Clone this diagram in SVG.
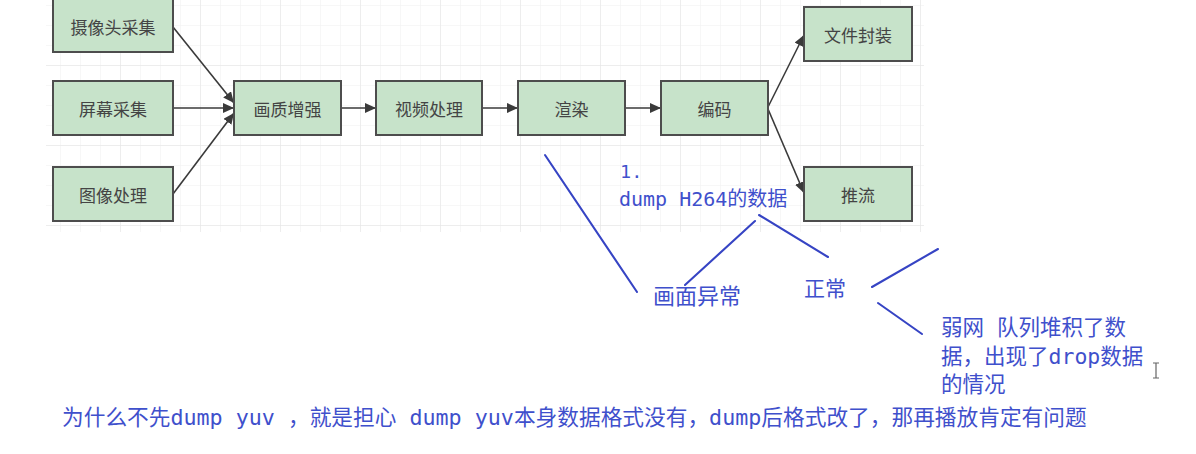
<svg xmlns="http://www.w3.org/2000/svg" width="1196" height="454" viewBox="0 0 1196 454">
  <defs>
    <pattern id="minor" x="0" y="5" width="20" height="20" patternUnits="userSpaceOnUse">
      <path d="M0 0 H20 M0 0 V20" fill="none" stroke="#f0f0f0" stroke-width="1"/>
    </pattern>
    <pattern id="major" x="40" y="65" width="80" height="80" patternUnits="userSpaceOnUse">
      <path d="M0 0 H80 M0 0 V80" fill="none" stroke="#e3e3e3" stroke-width="1"/>
    </pattern>
    <marker id="arrow" markerUnits="userSpaceOnUse" markerWidth="12" markerHeight="10" refX="11" refY="5" orient="auto">
      <path d="M0 0 L11 5 L0 10 Z" fill="#3a3a3a"/>
    </marker>
    <style>
      .node rect { fill: #c7e3ca; stroke: #4d4d4d; stroke-width: 2; }
      .node text { font-family: "Noto Sans CJK SC", "Noto Sans", sans-serif; font-size: 17px; fill: #444444; text-anchor: middle; dominant-baseline: central; }
      .conn { fill: none; stroke: #3a3a3a; stroke-width: 1.6; marker-end: url(#arrow); }
      .ann { fill: none; stroke: #3644c4; stroke-width: 2.1; stroke-linecap: round; }
      .note { font-family: "DejaVu Sans Mono", "Noto Sans CJK SC", monospace; fill: #3f50cc; }
    </style>
  </defs>
  <rect width="1196" height="454" fill="#ffffff"/>
  <g id="grid">
    <rect x="46" y="0" width="878" height="232" fill="url(#minor)"/>
    <rect x="46" y="0" width="878" height="232" fill="url(#major)"/>
  </g>

  <g id="connectors">
    <path class="conn" d="M173 27 L234 103"/>
    <path class="conn" d="M173 108 L234 108"/>
    <path class="conn" d="M173 194 L234 113"/>
    <path class="conn" d="M341 108 L376 108"/>
    <path class="conn" d="M482 108 L518 108"/>
    <path class="conn" d="M625 108 L661 108"/>
    <path class="conn" d="M768 107 L804 35"/>
    <path class="conn" d="M768 109 L804 193"/>
  </g>

  <g id="n-camera" class="node"><rect x="53" y="-2" width="120" height="54"/><text x="113" y="26">摄像头采集</text></g>
  <g id="n-screen" class="node"><rect x="53" y="81" width="120" height="54"/><text x="113" y="108">屏幕采集</text></g>
  <g id="n-image" class="node"><rect x="53" y="167" width="120" height="54"/><text x="113" y="194">图像处理</text></g>
  <g id="n-enhance" class="node"><rect x="234" y="81" width="107" height="54"/><text x="287.5" y="108">画质增强</text></g>
  <g id="n-video" class="node"><rect x="376" y="81" width="106" height="54"/><text x="429" y="108">视频处理</text></g>
  <g id="n-render" class="node"><rect x="518" y="81" width="107" height="54"/><text x="571.5" y="108">渲染</text></g>
  <g id="n-encode" class="node"><rect x="661" y="81" width="107" height="54"/><text x="714.5" y="108">编码</text></g>
  <g id="n-file" class="node"><rect x="804" y="7" width="108" height="54"/><text x="858" y="34">文件封装</text></g>
  <g id="n-push" class="node"><rect x="804" y="167" width="108" height="54"/><text x="858" y="194">推流</text></g>

  <g id="annotations">
    <path class="ann" d="M545 155 L637 292"/>
    <path class="ann" d="M755 221 L685 285"/>
    <path class="ann" d="M759 215 L828 257"/>
    <path class="ann" d="M872 287 L938 249"/>
    <path class="ann" d="M878 303 L922 334"/>
    <text class="note" x="620" y="178" font-size="18.5">1.</text>
    <text class="note" x="619" y="206" font-size="20">dump H264的数据</text>
    <text class="note" x="653" y="304" font-size="22">画面异常</text>
    <text class="note" x="804" y="296" font-size="21">正常</text>
    <text class="note" x="941" y="335" font-size="21.5">弱网 队列堆积了数</text>
    <text class="note" x="941" y="364" font-size="21.5">据，出现了drop数据</text>
    <text class="note" x="941" y="392" font-size="21.5">的情况</text>
    <text class="note" x="62" y="425" font-size="21.7">为什么不先dump yuv ，就是担心 dump yuv本身数据格式没有，dump后格式改了，那再播放肯定有问题</text>
  </g>

  <g id="cursor">
    <path d="M1153 363 H1159 M1156 363 V378 M1153 378 H1159" fill="none" stroke="#666" stroke-width="1.2"/>
  </g>
</svg>
